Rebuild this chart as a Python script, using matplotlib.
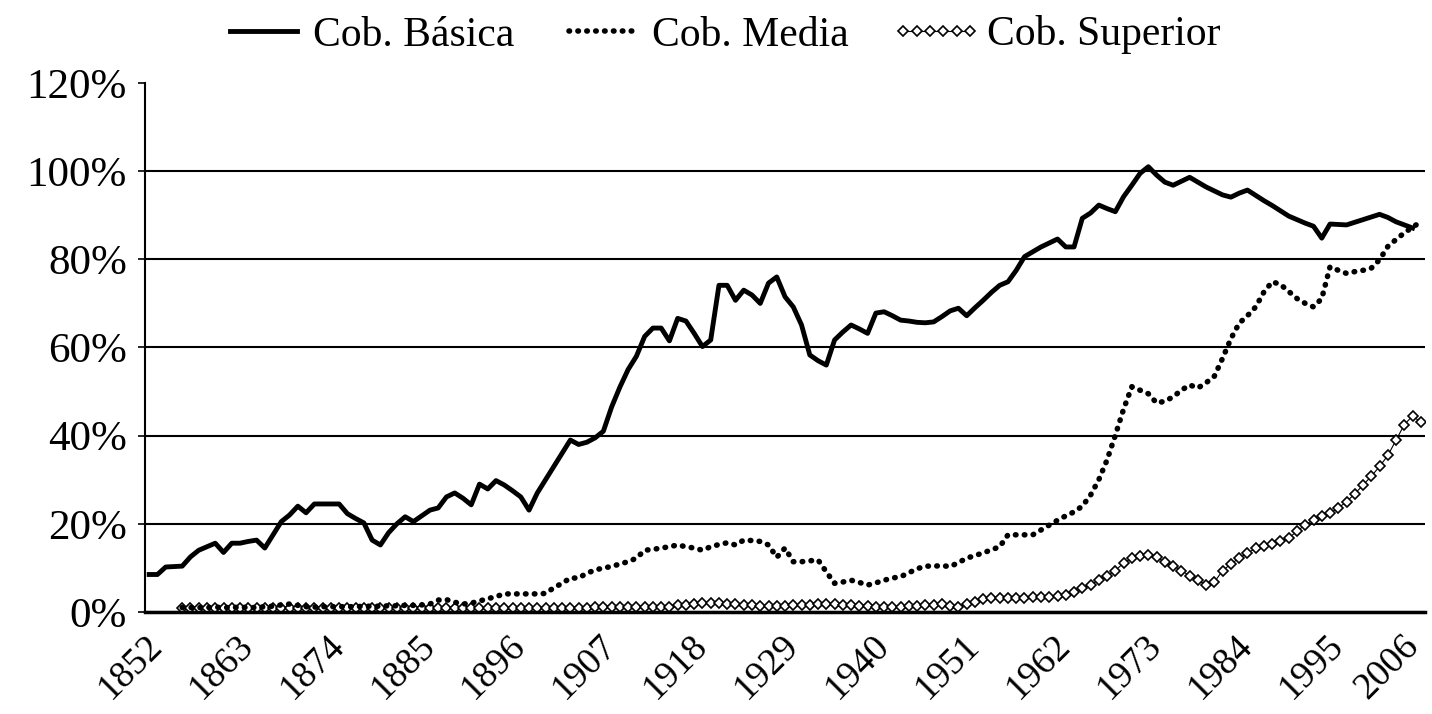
import matplotlib
matplotlib.use("Agg")
import matplotlib.pyplot as plt
import matplotlib.transforms as mtransforms
import numpy as np

plt.rcParams['font.family'] = ['Liberation Serif', 'DejaVu Serif']

# Cob. Básica, 1852-2005
basica_years = np.arange(1852, 2006)
basica = [
    8.5, 8.5, 10.2, 10.3, 10.4, 12.5, 14.0, 14.8, 15.6, 13.5,
    15.6, 15.6, 16.0, 16.3, 14.5, 17.5, 20.5, 22.0, 24.0, 22.5,
    24.5, 24.5, 24.5, 24.5, 22.3, 21.2, 20.2, 16.3, 15.2, 18.0,
    20.0, 21.6, 20.5, 21.8, 23.1, 23.6, 26.1, 27.0, 25.8, 24.3,
    29.0, 27.9, 29.8, 28.8, 27.5, 26.1, 23.1, 27.0, 30.0, 33.0,
    36.0, 39.0, 38.0, 38.5, 39.5, 41.0, 46.5, 51.0, 55.0, 58.0,
    62.5, 64.4, 64.4, 61.5, 66.6, 66.0, 63.2, 60.2, 61.7, 74.1,
    74.1, 70.7, 73.0, 71.9, 70.0, 74.6, 76.0, 71.5, 69.2, 65.1,
    58.3, 57.0, 56.0, 61.7, 63.5, 65.1, 64.2, 63.2, 67.8, 68.1,
    67.2, 66.2, 66.0, 65.7, 65.6, 65.8, 67.0, 68.3, 68.9, 67.2,
    69.0, 70.7, 72.5, 74.1, 74.9, 77.5, 80.6, 81.7, 82.8, 83.7,
    84.6, 82.8, 82.8, 89.3, 90.5, 92.3, 91.5, 90.8, 94.2, 96.8,
    99.5, 101.0, 99.1, 97.5, 96.8, 97.7, 98.6, 97.5, 96.4, 95.5,
    94.6, 94.1, 95.0, 95.7, 94.5, 93.3, 92.2, 91.0, 89.8, 89.0,
    88.2, 87.5, 84.8, 88.0, 87.9, 87.8, 88.4, 89.0, 89.6, 90.2,
    89.5, 88.5, 87.8, 87.1,
]

# Cob. Media and Cob. Superior, 1856-2006
other_years = np.arange(1856, 2007)
media = [
    1.0, 1.0, 1.0, 1.0, 1.1, 1.0, 1.0, 1.1, 1.0, 1.0,
    1.2, 1.3, 1.6, 1.8, 1.5, 1.2, 1.1, 1.2, 1.2, 1.2,
    1.2, 1.2, 1.3, 1.3, 1.3, 1.4, 1.4, 1.5, 1.5, 1.6,
    1.8, 2.7, 2.8, 2.2, 1.8, 2.0, 2.5, 3.0, 3.5, 4.1,
    4.1, 4.1, 4.1, 4.1, 4.2, 5.5, 6.5, 7.7, 7.7, 8.8,
    9.5, 10.0, 10.3, 10.9, 11.4, 12.2, 14.0, 14.2, 14.5, 14.8,
    15.2, 14.8, 14.5, 14.0, 14.8, 15.3, 15.7, 15.2, 16.3, 16.2,
    16.0, 15.2, 12.4, 14.5, 11.4, 11.4, 11.6, 11.8, 9.1, 6.5,
    6.8, 7.2, 6.7, 6.1, 6.6, 7.2, 7.7, 8.0, 8.9, 9.8,
    10.4, 10.4, 10.5, 10.3, 11.2, 12.2, 12.8, 13.4, 14.1, 14.8,
    17.5, 17.5, 17.5, 17.5, 18.6, 19.7, 20.8, 21.8, 22.7, 24.0,
    26.5, 30.0, 34.5, 40.1, 46.0, 51.1, 50.3, 49.5, 47.4, 47.8,
    48.8, 50.3, 51.5, 50.8, 52.0, 53.5, 57.6, 62.0, 65.5, 67.2,
    69.2, 72.6, 74.9, 74.3, 72.7, 71.1, 70.0, 69.2, 71.1, 78.3,
    77.5, 76.8, 77.2, 77.5, 78.0, 79.9, 82.9, 84.5, 86.0, 87.3, 88.5,
]
superior = [
    0.8, 0.8, 0.8, 0.8, 0.8, 0.8, 0.8, 0.8, 0.8, 0.8,
    0.8, 0.8, 0.8, 0.8, 0.8, 0.8, 0.8, 0.8, 0.8, 0.8,
    0.9, 0.9, 0.9, 0.9, 0.9, 0.9, 0.9, 0.9, 0.9, 0.9,
    1.0, 1.0, 1.0, 1.0, 1.0, 1.0, 1.0, 1.0, 1.0, 1.0,
    1.0, 1.0, 1.0, 1.0, 1.0, 1.0, 1.0, 1.0, 1.0, 1.0,
    1.1, 1.1, 1.1, 1.1, 1.1, 1.2, 1.2, 1.2, 1.2, 1.2,
    1.5, 1.6, 1.8, 2.0, 2.0, 2.0, 1.9, 1.8, 1.6, 1.5,
    1.4, 1.4, 1.4, 1.4, 1.5, 1.5, 1.6, 1.7, 1.8, 1.8,
    1.6, 1.5, 1.4, 1.3, 1.2, 1.2, 1.2, 1.2, 1.3, 1.4,
    1.5, 1.6, 1.8, 1.4, 1.2, 1.7, 2.3, 2.9, 3.2, 3.2,
    3.2, 3.2, 3.2, 3.3, 3.4, 3.5, 3.7, 3.9, 4.6, 5.4,
    6.2, 7.2, 8.2, 9.4, 11.1, 12.2, 12.7, 12.9, 12.4, 11.3,
    10.5, 9.4, 8.2, 7.2, 6.2, 6.8, 9.4, 10.9, 12.2, 13.4,
    14.4, 15.0, 15.4, 16.0, 16.8, 18.3, 19.8, 20.9, 21.7, 22.4,
    23.6, 25.0, 26.8, 28.8, 30.8, 33.0, 35.5, 39.0, 42.5, 44.5, 43.0,
]

tick_years = list(range(1852, 2007, 11))
y_ticks = [0, 20, 40, 60, 80, 100, 120]

fig = plt.figure(figsize=(14.32, 7.14), dpi=100)
ax = fig.add_axes([0.1013, 0.1429, 0.8938, 0.7409])

ax.plot(basica_years, basica, color='black', lw=3.5, solid_joinstyle='round',
        label='Cob. Básica', zorder=4)
ax.plot(other_years, media, color='black', lw=4.0, linestyle=(0, (0.1, 1.5)),
        dash_capstyle='round', label='Cob. Media', zorder=3)
ax.plot(other_years, superior, color='black', lw=0.8, marker='D', markersize=5.5,
        markerfacecolor='white', markeredgecolor='black', markeredgewidth=1.2,
        label='Cob. Superior', zorder=2)

ax.set_xlim(1851.5, 2006.5)
ax.set_ylim(0, 120)
ax.set_yticks(y_ticks)
ax.set_yticklabels([f"{v}%" for v in y_ticks], fontsize=31)
ax.set_xticks(tick_years)
ax.set_xticklabels([str(y) for y in tick_years], fontsize=27, rotation=45,
                   ha='right', va='top', rotation_mode='anchor')
ax.tick_params(axis='x', length=0, pad=12)
ax.tick_params(axis='y', length=5, width=1.2, pad=8)
# nudge the rotated year labels; the last one a bit more so it stays inside
labels = ax.get_xticklabels()
for i, lbl in enumerate(labels):
    dx = -14 if i == len(labels) - 1 else -3
    shift = mtransforms.ScaledTranslation(dx / 72, 0, fig.dpi_scale_trans)
    lbl.set_transform(lbl.get_transform() + shift)

ax.grid(axis='y', color='black', lw=1.5)
ax.get_ygridlines()[-1].set_visible(False)
ax.set_axisbelow(True)
for side in ['top', 'right']:
    ax.spines[side].set_visible(False)
ax.spines['left'].set_linewidth(1.5)
ax.spines['bottom'].set_linewidth(2.5)

fig.legend(loc='center', bbox_to_anchor=(0.502, 1 - 35 / 714), ncol=3,
           frameon=False, fontsize=30, handlelength=2.2, handletextpad=0.1,
           columnspacing=1.0, numpoints=6, borderpad=0)

fig.savefig("out.png", dpi=100)
